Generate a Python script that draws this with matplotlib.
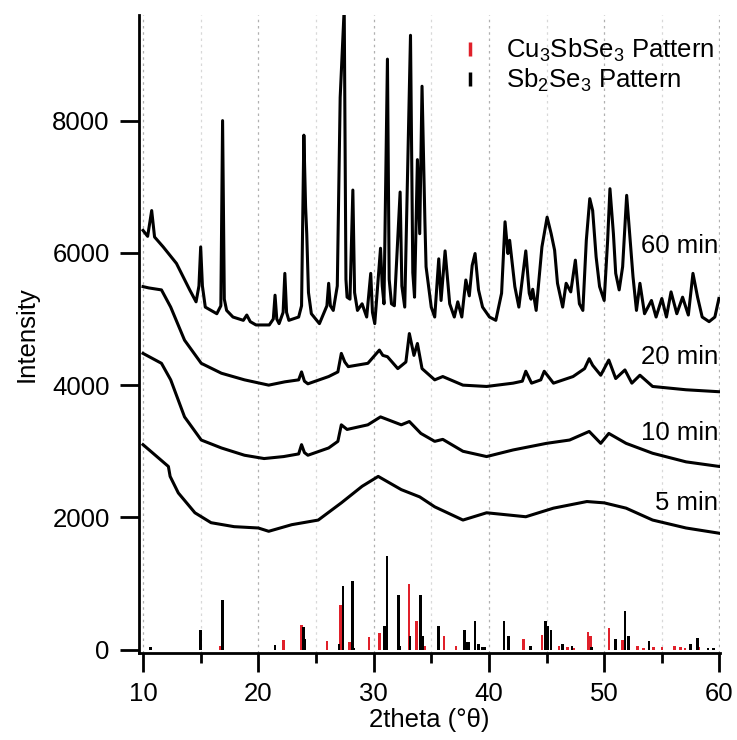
import matplotlib
matplotlib.use("Agg")
import matplotlib.pyplot as plt
from matplotlib.lines import Line2D
from matplotlib.ticker import MultipleLocator

plt.rcParams["font.family"] = ["Liberation Sans", "DejaVu Sans"]
plt.rcParams["mathtext.default"] = "regular"

# --- XRD traces (2theta, intensity) ---
x60 = [10.0, 10.4, 10.75, 11.0, 11.75, 12.9, 14.05, 14.6, 14.85, 15.0, 15.15, 15.4, 16.4, 16.75,
       16.9, 17.05, 17.25, 17.8, 18.7, 19.0, 19.3, 19.8, 20.95, 21.3, 21.45, 21.6, 21.8, 22.15,
       22.3, 22.45, 22.65, 23.5, 23.75, 23.95, 24.1, 24.2, 24.35, 24.6, 25.3, 25.95, 26.1, 26.25,
       26.5, 26.85, 27.1, 27.45, 27.6, 27.7, 27.95, 28.2, 28.35, 28.6, 29.0, 29.4, 29.75, 29.9,
       30.1, 30.6, 30.75, 30.9, 31.2, 31.35, 31.55, 31.8, 32.3, 32.45, 32.7, 33.2, 33.4, 33.55,
       33.8, 34.0, 34.2, 34.45, 34.55, 35.0, 35.3, 35.65, 35.85, 36.2, 36.6, 37.0, 37.3, 37.65,
       38.0, 38.3, 38.55, 38.8, 39.1, 39.45, 40.05, 40.6, 41.1, 41.4, 41.65, 41.8, 42.25, 42.6,
       43.2, 43.5, 43.65, 43.8, 44.1, 44.6, 45.05, 45.4, 45.7, 45.95, 46.4, 46.7, 47.1, 47.5,
       47.85, 48.15, 48.45, 48.75, 49.0, 49.3, 49.6, 50.0, 50.3, 50.5, 50.8, 51.0, 51.3, 51.6,
       51.95, 52.25, 52.5, 52.8, 53.1, 53.5, 54.1, 54.5, 55.0, 55.4, 55.8, 56.3, 56.8, 57.3,
       57.7, 58.1, 58.5, 59.1, 59.6, 59.95]
y60 = [6340, 6250, 6640, 6240, 6090, 5840, 5440, 5260, 5500, 6090, 5500, 5180, 5080, 5200,
       8000, 5300, 5130, 5030, 4980, 5060, 4960, 4910, 4910, 5000, 5360, 5000, 4930, 5100,
       5690, 5100, 4980, 5030, 5200, 7780, 6700, 6290, 5400, 5080, 4930, 5200, 5540, 5200,
       5130, 5500, 8350, 9700, 5600, 5330, 5300, 6950, 5400, 5130, 5230, 5030, 5690, 5100,
       4930, 6070, 5500, 5230, 8930, 5600, 5230, 5200, 6920, 5500, 5180, 9290, 5700, 5330,
       7410, 6290, 8520, 6470, 5790, 5180, 5030, 5910, 5280, 6030, 5230, 5030, 5260, 5030,
       5590, 5350, 5810, 5990, 5440, 5180, 5030, 4980, 5390, 6470, 5990, 6190, 5490, 5180,
       6030, 5390, 5300, 5450, 5130, 6090, 6540, 6290, 6040, 5540, 5180, 5540, 5410, 5890,
       5230, 5130, 6190, 6820, 6640, 5940, 5490, 5280, 6190, 6970, 6290, 5690, 5440, 5790,
       6870, 6190, 5640, 5130, 5540, 5080, 5280, 5030, 5310, 5030, 5410, 5080, 5330, 5060,
       5690, 5330, 5030, 4960, 5030, 5310]

x20 = [10.0, 10.5, 11.6, 12.4, 13.6, 15.05, 16.8, 18.8, 20.9, 22.3, 23.5, 23.75, 24.0, 24.3,
       26.1, 26.9, 27.2, 27.5, 27.8, 29.5, 30.5, 30.8, 31.2, 32.1, 32.8, 33.1, 33.5, 33.8, 34.2,
       35.3, 36.0, 37.75, 39.8, 42.1, 42.9, 43.2, 43.7, 44.5, 44.8, 45.6, 47.3, 48.3, 48.7, 49.0,
       49.7, 50.4, 51.0, 51.8, 52.4, 53.1, 54.2, 57.1, 60.0]
y20 = [5490, 5470, 5440, 5180, 4680, 4330, 4180, 4080, 4000, 4050, 4080, 4200, 4060, 4020,
       4130, 4200, 4480, 4350, 4280, 4330, 4530, 4450, 4430, 4250, 4350, 4780, 4450, 4630, 4250,
       4080, 4130, 4000, 3980, 4030, 4060, 4210, 4030, 4080, 4210, 4030, 4130, 4250, 4400, 4300,
       4150, 4380, 4100, 4230, 4030, 4150, 3980, 3930, 3900]

x10 = [10.0, 11.6, 12.4, 13.6, 15.05, 16.8, 18.8, 20.5, 22.2, 23.5, 23.75, 24.0, 24.3, 26.1,
       26.9, 27.2, 27.7, 29.5, 30.6, 32.4, 33.1, 34.1, 35.3, 36.0, 37.75, 39.8, 42.1, 45.0,
       47.0, 48.7, 49.7, 50.4, 51.9, 54.2, 57.1, 60.0]
y10 = [4480, 4330, 4080, 3520, 3170, 3050, 2940, 2890, 2920, 2960, 3100, 2980, 2940, 3050,
       3150, 3400, 3330, 3400, 3520, 3400, 3450, 3270, 3150, 3180, 3000, 2920, 3020, 3120,
       3170, 3300, 3120, 3270, 3120, 2970, 2840, 2770]

x5 = [10.0, 11.0, 12.2, 12.35, 13.06, 14.5, 15.9, 17.9, 20.0, 20.9, 22.9, 25.2, 27.2, 29.0,
      30.4, 32.4, 34.0, 35.3, 37.75, 39.8, 43.2, 45.6, 48.5, 50.0, 51.9, 54.2, 57.1, 60.0]
y5 = [3100, 2950, 2770, 2620, 2370, 2070, 1920, 1860, 1840, 1790, 1890, 1960, 2220, 2470,
      2620, 2420, 2310, 2160, 1960, 2070, 2010, 2140, 2240, 2220, 2140, 1960, 1840, 1760]

# --- reference stick patterns ---
cu_pos = [16.7, 22.2, 23.75, 25.96, 27.12, 27.9, 29.6, 30.5, 33.07, 33.7, 34.45, 36.1, 37.15,
          43.0, 44.6, 46.1, 46.8, 47.4, 48.6, 48.8, 50.4, 51.6, 52.9, 53.4, 54.3, 55.0, 56.1,
          56.6, 57.0, 58.2]
cu_int = [60, 140, 380, 125, 680, 115, 190, 250, 1000, 430, 50, 210, 60,
          160, 215, 50, 40, 30, 265, 200, 325, 140, 60, 30, 40, 40, 60,
          40, 30, 40]
sb_pos = [10.67, 15.0, 16.88, 21.44, 23.9, 24.05, 27.0, 27.35, 28.16, 28.3, 30.95, 31.15, 32.17,
          32.3, 33.15, 34.05, 34.3, 35.65, 37.9, 38.1, 38.25, 38.8, 39.1, 39.4, 39.6, 41.3, 41.7,
          43.6, 44.9, 45.1, 45.4, 46.4, 47.2, 48.9, 51.0, 51.8, 52.1, 53.9, 57.5, 58.1, 59.0, 59.5]
sb_int = [40, 290, 745, 70, 340, 160, 90, 970, 1040, 30, 360, 1420, 820,
          60, 200, 820, 210, 360, 290, 120, 120, 440, 90, 40, 40, 440, 210,
          60, 440, 360, 290, 90, 60, 40, 160, 590, 210, 125, 90, 175, 20, 20]

labels = ["60 min", "20 min", "10 min", "5 min"]
label_y = [6100, 4420, 3280, 2220]

RED = "#e0202a"
FS = 18.5

fig = plt.figure(figsize=(7.37, 7.40), dpi=100)
ax = fig.add_axes([0.1886, 0.1176, 0.7884, 0.8624])

for xs, ys in [(x60, y60), (x20, y20), (x10, y10), (x5, y5)]:
    ax.plot(xs, ys, color="black", lw=2.2, solid_joinstyle="round")

ax.bar(cu_pos, cu_int, width=0.22, color=RED, linewidth=0)
ax.bar(sb_pos, sb_int, width=0.22, color="black", linewidth=0)

for lab, ly in zip(labels, label_y):
    ax.text(59.9, ly, lab, ha="right", va="center", fontsize=FS)

ax.set_xlim(9.65, 60.05)
ax.set_ylim(-50, 9600)
ax.xaxis.set_major_locator(MultipleLocator(10))
ax.xaxis.set_minor_locator(MultipleLocator(5))
ax.yaxis.set_major_locator(MultipleLocator(2000))

ax.grid(True, axis="x", which="major", color="#b0b0b0", ls=(0, (2, 3)), lw=0.9)
ax.grid(True, axis="x", which="minor", color="#d8d8d8", ls=(0, (2, 3)), lw=0.9)
ax.set_axisbelow(True)

for s in ["top", "right"]:
    ax.spines[s].set_visible(False)
for s in ["left", "bottom"]:
    ax.spines[s].set_linewidth(2.0)

ax.tick_params(axis="both", which="major", direction="out", length=14, width=2.0,
               labelsize=FS, pad=7)
ax.tick_params(axis="x", which="minor", direction="out", length=7, width=2.0)

ax.set_xlabel("2theta (°θ)", fontsize=FS, labelpad=1)
ax.set_ylabel("Intensity", fontsize=FS, labelpad=10)

handles = [Line2D([], [], color=RED, marker="|", ls="None", markersize=10, mew=2.5),
           Line2D([], [], color="black", marker="|", ls="None", markersize=10, mew=2.5)]
fig.legend(handles, [r"Cu$_3$SbSe$_3$ Pattern", r"Sb$_2$Se$_3$ Pattern"],
           loc="upper left", bbox_to_anchor=(442 / 737, 1 - 24 / 740), frameon=False,
           fontsize=FS, handlelength=1.2, handletextpad=0.8, labelspacing=0.1,
           borderpad=0)

fig.savefig("out.png", dpi=100)
